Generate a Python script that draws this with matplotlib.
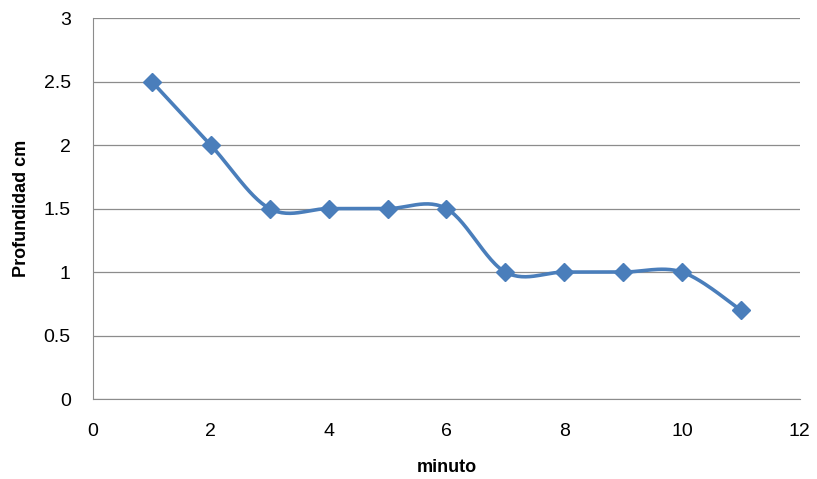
import numpy as np
import matplotlib
matplotlib.use('Agg')
from matplotlib import pyplot as plt

minuto = [1, 2, 3, 4, 5, 6, 7, 8, 9, 10, 11]
profundidad = [2.5, 2.0, 1.5, 1.5, 1.5, 1.5, 1.0, 1.0, 1.0, 1.0, 0.7]
x_ticks = [0, 2, 4, 6, 8, 10, 12]
y_ticks = [0, 0.5, 1, 1.5, 2, 2.5, 3]
y_labels = ['0', '0.5', '1', '1.5', '2', '2.5', '3']

plt.rcParams['font.family'] = ['Liberation Sans', 'DejaVu Sans']


def smooth(xs, ys, n=30):
    # Excel-like smoothed line: cubic bezier through points, catmull-rom controls
    xs = np.asarray(xs, float)
    ys = np.asarray(ys, float)
    px, py = [], []
    for i in range(len(xs) - 1):
        x0, y0 = (xs[i - 1], ys[i - 1]) if i > 0 else (xs[i], ys[i])
        x3, y3 = (xs[i + 2], ys[i + 2]) if i + 2 < len(xs) else (xs[i + 1], ys[i + 1])
        x1, y1 = xs[i], ys[i]
        x2, y2 = xs[i + 1], ys[i + 1]
        c1x, c1y = x1 + (x2 - x0) / 6, y1 + (y2 - y0) / 6
        c2x, c2y = x2 - (x3 - x1) / 6, y2 - (y3 - y1) / 6
        t = np.linspace(0, 1, n)
        bx = (1-t)**3*x1 + 3*(1-t)**2*t*c1x + 3*(1-t)*t**2*c2x + t**3*x2
        by = (1-t)**3*y1 + 3*(1-t)**2*t*c1y + 3*(1-t)*t**2*c2y + t**3*y2
        px.extend(bx)
        py.extend(by)
    return px, py


fig = plt.figure(figsize=(8.17, 4.79), dpi=100)
ax = fig.add_axes([0.1138, 0.167, 0.979 - 0.1138, 0.962 - 0.167])

sx, sy = smooth(minuto, profundidad)
col = '#4A7EBB'
ax.plot(sx, sy, color=col, lw=2.6, solid_capstyle='round', zorder=3)
ax.plot(minuto, profundidad, 'D', color=col, ms=9, zorder=4)

ax.set_xlim(0, 12)
ax.set_ylim(0, 3)
ax.set_xticks(x_ticks)
ax.set_yticks(y_ticks)
ax.set_yticklabels(y_labels)
ax.yaxis.grid(True, color='#8c8c8c', lw=0.9)
ax.set_axisbelow(True)
for s in ['top', 'right']:
    ax.spines[s].set_visible(False)
for s in ['left', 'bottom']:
    ax.spines[s].set_color('#8c8c8c')
ax.tick_params(axis='both', colors='#8c8c8c', labelcolor='#000000', labelsize=14, length=0)
ax.tick_params(axis='x', pad=17)
ax.tick_params(axis='y', pad=16)
ax.set_xlabel('minuto', fontsize=13, fontweight='bold', labelpad=14)
ax.set_ylabel('Profundidad cm', fontsize=13, fontweight='bold', labelpad=10)

fig.savefig('out.png', dpi=100)
